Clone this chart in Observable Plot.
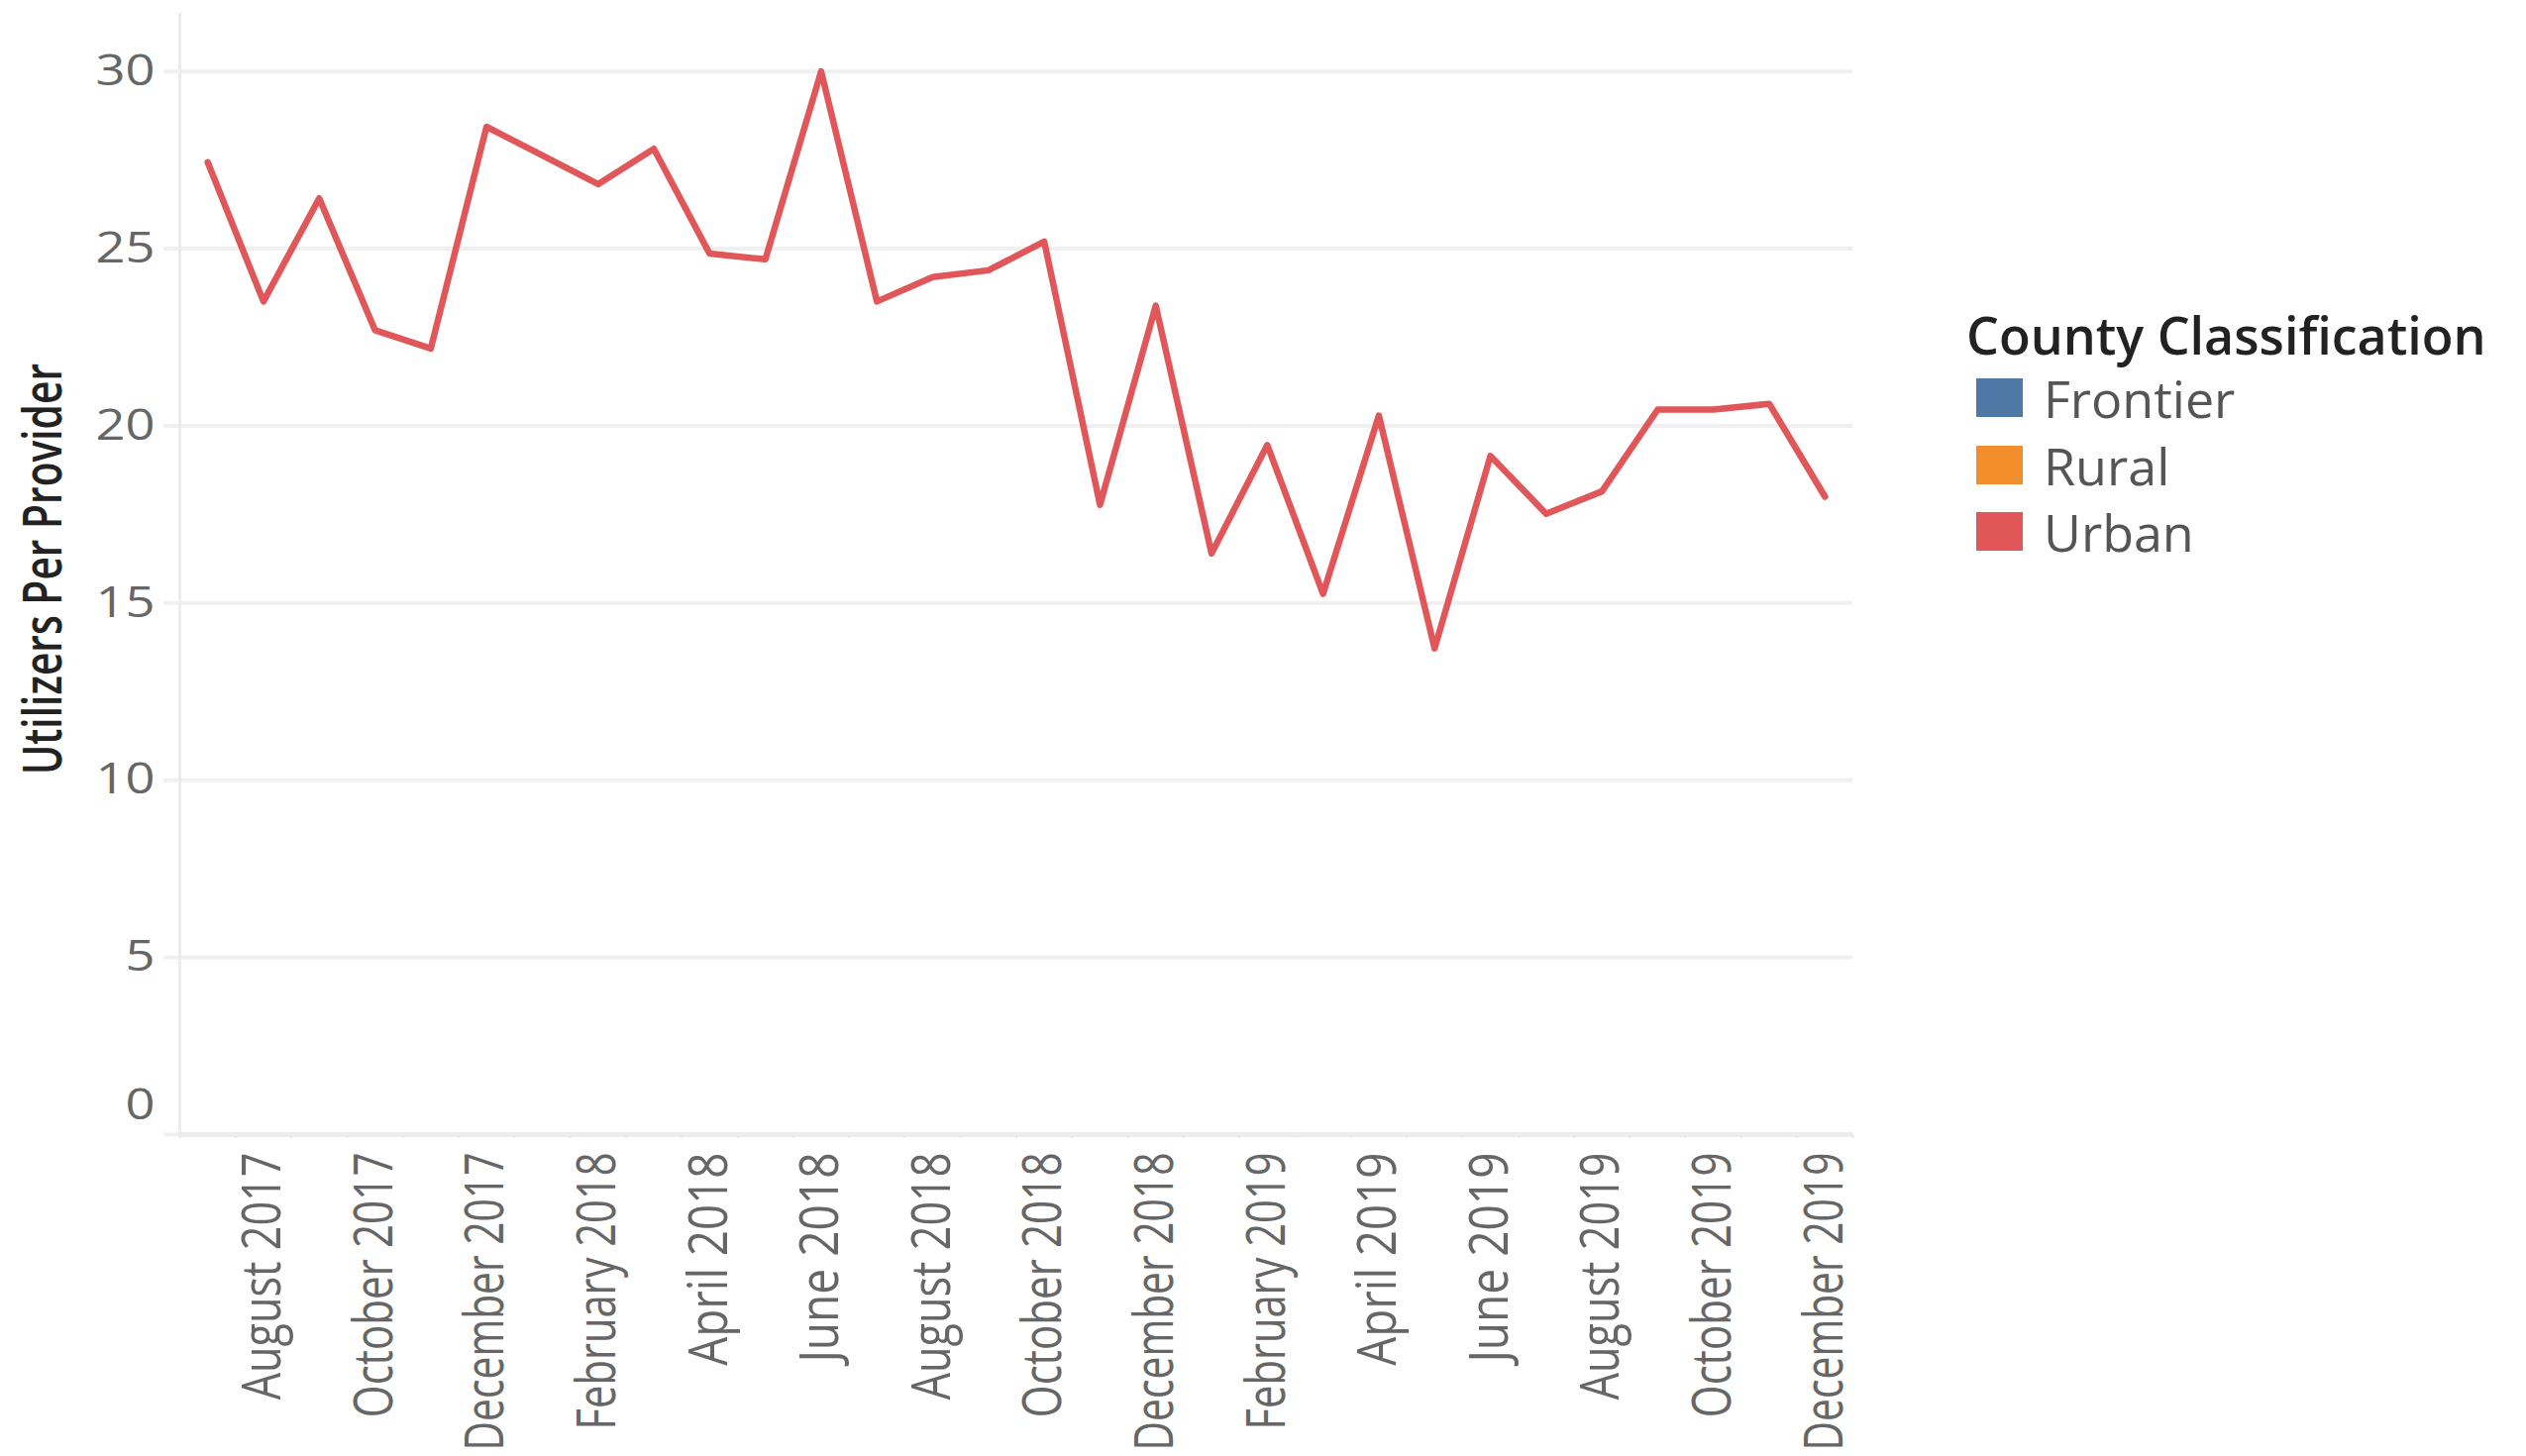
<!DOCTYPE html>
<html>
<head>
<meta charset="utf-8">
<script src="https://cdn.jsdelivr.net/npm/d3@7"></script>
<script src="https://cdn.jsdelivr.net/npm/@observablehq/plot@0.6"></script>
<style>
  body { margin: 0; background: #fff; }
  #wrap { position: relative; width: 2550px; height: 1470px; overflow: hidden; font-family: "Open Sans", sans-serif; }
  #chart { position: absolute; left: 0; top: 0; }
  #legend-title { position: absolute; left: 1985px; top: 310px; font: 600 52px/56px "Open Sans", sans-serif; color: #222; white-space: nowrap; }
  #legend { position: absolute; left: 1995px; top: 368px; }
  .lg-swatches { font-family: "Open Sans", sans-serif; font-size: 52px; color: #555; margin: 0; }
  .lg-swatch { height: 67.5px; padding-bottom: 0 !important; overflow: visible !important; }
  .lg-swatch > svg { margin-right: 21px !important; }
  .lg-swatch-label { line-height: 67.5px; overflow: visible !important; text-overflow: clip !important; }
</style>
</head>
<body>
<div id="wrap">
  <div id="chart"></div>
  <div id="legend-title"></div>
  <div id="legend"></div>
</div>
<script>
// ---- data ----
const months = [
  "July 2017", "August 2017", "September 2017", "October 2017", "November 2017", "December 2017",
  "January 2018", "February 2018", "March 2018", "April 2018", "May 2018", "June 2018",
  "July 2018", "August 2018", "September 2018", "October 2018", "November 2018", "December 2018",
  "January 2019", "February 2019", "March 2019", "April 2019", "May 2019", "June 2019",
  "July 2019", "August 2019", "September 2019", "October 2019", "November 2019", "December 2019"
];
const urbanValues = [
  27.44, 23.51, 26.42, 22.70, 22.18, 28.44,
  27.63, 26.82, 27.82, 24.86, 24.70, 30.00,
  23.51, 24.20, 24.39, 25.20, 17.77, 23.39,
  16.40, 19.46, 15.26, 20.29, 13.72, 19.15,
  17.52, 18.15, 20.46, 20.46, 20.62, 18.00
];
const classes = ["Frontier", "Rural", "Urban"];
const classColors = ["#4E79A7", "#F28E2B", "#E15759"];
const yTicks = [0, 5, 10, 15, 20, 25, 30];
const yTitle = "Utilizers Per Provider";
const legendTitle = "County Classification";

// ---- derived table ----
const data = urbanValues.map((v, i) => ({month: months[i], idx: i + 0.5, value: v, cls: "Urban"}));
const boundaries = d3.range(months.length + 1);
const labelIdx = months.map((m, i) => i + 0.5).filter((d, i) => i % 2 === 1);

const chart = Plot.plot({
  width: 1900,
  height: 1470,
  marginLeft: 181,
  marginRight: 30,
  marginTop: 13,
  marginBottom: 325,
  style: {fontFamily: '"Open Sans", sans-serif', background: "transparent", overflow: "visible"},
  x: {domain: [0, months.length], axis: null},
  y: {domain: [0, 31.64], axis: null},
  color: {domain: classes, range: classColors},
  marks: [
    Plot.gridY(yTicks, {stroke: "#f0f0f0", strokeOpacity: 1, strokeWidth: 4}),
    Plot.axisY(yTicks, {tickSize: 16, stroke: "#f0f0f0", strokeWidth: 4, fill: "none", label: null}),
    Plot.ruleX([0], {stroke: "#ececec", strokeWidth: 3}),
    Plot.axisX(boundaries, {tickSize: 4, stroke: "#e4e4e4", strokeWidth: 2, fill: "none", label: null}),
    Plot.ruleY([0], {stroke: "#ededed", strokeWidth: 5}),
    Plot.axisY(yTicks.filter(d => d > 0), {tickSize: 0, tickPadding: 25, fill: "#666", fontSize: 43, label: null}),
    Plot.axisY([0], {tickSize: 0, tickPadding: 25, dy: -29, fill: "#666", fontSize: 43, label: null}),
    Plot.axisX(labelIdx, {
      tickSize: 0, tickPadding: 18, tickRotate: -90, textAnchor: "end", lineAnchor: "middle",
      tickFormat: d => months[d - 0.5], fill: "#666", fontSize: 54, label: null
    }),
    Plot.text([yTitle], {
      text: d => d, frameAnchor: "left", textAnchor: "middle", rotate: -90, dx: -120, dy: -5,
      lineAnchor: "bottom", fontSize: 55, fontWeight: 600, fill: "#222"
    }),
    Plot.line(data, {x: "idx", y: "value", stroke: "cls", strokeWidth: 6.5})
  ]
});

document.getElementById("chart").append(chart);

function fitText(selector, fn) {
  chart.querySelectorAll(selector).forEach(t => {
    const L = t.getComputedTextLength();
    t.setAttribute("textLength", fn(L).toFixed(1));
    t.setAttribute("lengthAdjust", "spacingAndGlyphs");
  });
}
fitText('g[aria-label="x-axis tick label"] text', L => 64.6 + 0.593 * L);
fitText('g[aria-label="y-axis tick label"] text', L => L * 1.22);
fitText('g[aria-label="text"] text', L => 415);

const leg = chart.legend("color", {legend: "swatches", columns: 1, swatchWidth: 47, swatchHeight: 39, className: "lg"});
document.getElementById("legend").append(leg);
document.getElementById("legend-title").textContent = legendTitle;
</script>
</body>
</html>
